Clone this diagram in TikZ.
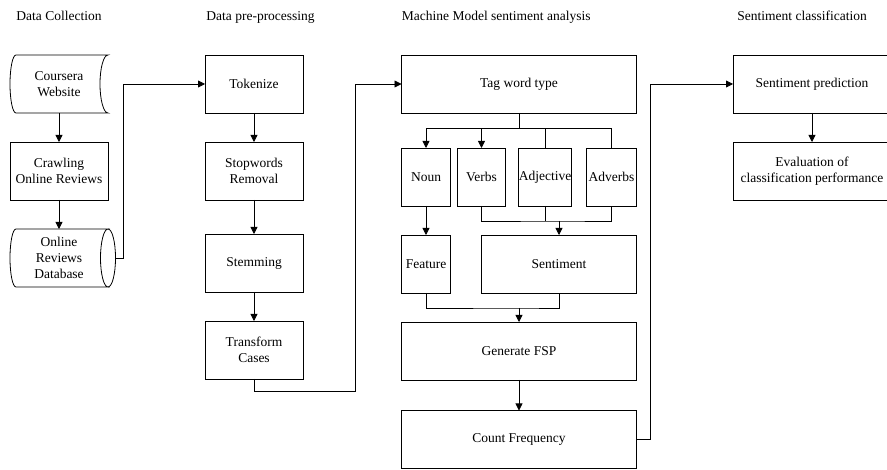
\documentclass[tikz,border=0pt]{standalone}
\usepackage{fontspec}
\setmainfont{Liberation Serif}
\usetikzlibrary{arrows.meta}
\usetikzlibrary{positioning}

\begin{document}
\begin{tikzpicture}[x=1pt,y=1pt,node distance=29pt and 7pt,line width=0.8pt,
		>={Triangle[length=7pt,width=7pt]},
		every node/.style={font=\fontsize{13.5pt}{16pt}\selectfont},
		box/.style={draw,rectangle,align=center,inner sep=0pt,outer sep=0pt,minimum height=58pt},
		datashape/.style={rectangle,align=center,inner sep=0pt,outer sep=0pt,minimum height=58pt,minimum width=98pt},
		title/.style={anchor=base west,inner sep=0pt}]
		\useasboundingbox (0,0) rectangle (887,-470);

		\node [datashape] (web) at (59,-84) {Coursera\\Website};
		\node [box,minimum width=98pt,below=of web] (crawl) {Crawling\\Online Reviews};
		\node [datashape,below=of crawl] (db) {Online\\Reviews\\Database};

		\node [box,minimum width=98pt] (tok) at (254,-84) {Tokenize};
		\node [box,minimum width=98pt,below=of tok] (stop) {Stopwords\\Removal};
		\node [box,minimum width=98pt,below=34pt of stop] (stem) {Stemming};
		\node [box,minimum width=98pt,below=of stem] (trans) {Transform\\Cases};

		\node [box,minimum width=235pt] (tag) at (519,-84) {Tag word type};
		\node [box,minimum width=49pt,below=35pt of tag.south west,anchor=north west] (noun) {Noun};
		\node [box,minimum width=48pt,right=of noun] (verbs) {Verbs};
		\node [box,minimum width=53pt,right=13pt of verbs] (adj) {Adjective};
		\node [box,minimum width=50pt,right=15pt of adj] (adv) {Adverbs};
		\node [box,minimum width=49pt,below=of noun] (feat) {Feature};
		\node [box,minimum width=155pt,right=31pt of feat] (senti) {Sentiment};
		\node [box,minimum width=235pt,below=of feat.south west,anchor=north west] (fsp) {Generate FSP};
		\node [box,minimum width=235pt,below=30.5pt of fsp] (count) {Count Frequency};

		\node [box,minimum width=158pt] (pred) at (812,-84) {Sentiment prediction};
		\node [box,minimum width=158pt,below=of pred] (eval) {Evaluation of\\classification performance};

		\node [title] (tcollect) at ([xshift=6pt,yshift=34pt]web.north west) {Data Collection};
		\node [title] (tprep) at ([xshift=1pt,yshift=34pt]tok.north west) {Data pre-processing};
		\node [title] (tmodel) at ([yshift=34pt]tag.north west) {Machine Model sentiment analysis};
		\node [title] (tclass) at ([xshift=4pt,yshift=34pt]pred.north west) {Sentiment classification};

		\draw ([xshift=6pt]web.north west) -- (web.north east) arc [start angle=90,end angle=270,x radius=8pt,y radius=29pt] -- ([xshift=6pt]web.south west) arc [start angle=270,end angle=90,x radius=6pt,y radius=29pt] -- cycle;
		\draw ([xshift=6pt]db.south west) arc [start angle=270,end angle=90,x radius=6pt,y radius=29pt] -- (db.north east) arc [start angle=90,end angle=270,x radius=7.5pt,y radius=29pt] -- cycle;
		\draw (db.north east) arc [start angle=90,end angle=-90,x radius=7.5pt,y radius=29pt];

		\draw [->] (web) -- (crawl);
		\draw [->] (crawl) -- (db);
		\draw [->] ([xshift=7.5pt]db.east) -- ++(7.5,0) |- (tok);

		\draw [->] (tok) -- (stop);
		\draw [->] (stop) -- (stem);
		\draw [->] (stem) -- (trans);
		\draw [->] (trans.south) -- ++(0,-12) -| ([xshift=-46pt]tag.west) -- (tag);

		\draw (tag.south) -- ++(0,-15) coordinate (split);
		\draw [->] (split) -| (noun);
		\draw [->] (split) -| (verbs);
		\draw (split) -| (adj);
		\draw (split) -| (adv);
		\draw [->] (noun) -- (feat);
		\coordinate [above=14pt of senti] (join1);
		\draw (verbs) |- (join1) -| (adv);
		\draw (adj) -- (adj |- join1);
		\draw [->] (join1) -- (senti);
		\coordinate [above=14pt of fsp] (join2);
		\draw (feat) |- (join2) -| (senti);
		\draw [->] (join2) -- (fsp);
		\draw [->] (fsp) -- (count);
		\draw [->] (count.east) -- ++(14,0) |- (pred);

		\draw [->] (pred) -- (eval);
	\end{tikzpicture}
\end{document}
